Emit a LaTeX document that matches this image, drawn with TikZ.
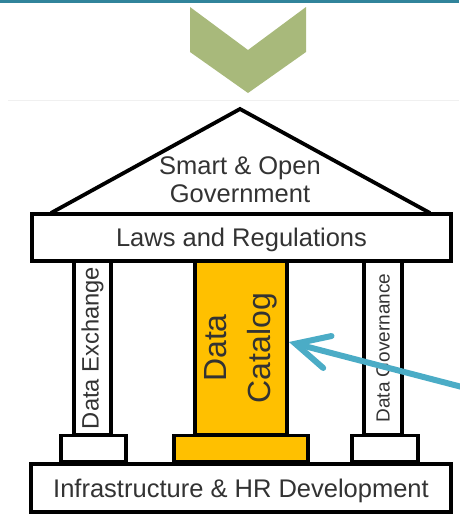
\documentclass[tikz,border=0pt]{standalone}
\usepackage{fontspec}
\setmainfont{Liberation Sans}
\usetikzlibrary{arrows.meta}

\definecolor{topbar}{HTML}{31849B}
\definecolor{chevron}{HTML}{A8B97B}
\definecolor{gold}{HTML}{FFC000}
\definecolor{pointer}{HTML}{4BACC6}
\definecolor{ink}{HTML}{333333}

\begin{document}
\begin{tikzpicture}[
    x = 1pt, y = -1pt, % pixel grid of the picture
    line width = 3.8pt, % heavy outlines
    line join = miter
    ]

    \tikzset{
    slab/.style = {draw = black, fill = white, text = ink, inner sep = 0pt,
        text depth = 0pt, font = \fontsize{25.5}{28}\selectfont},
    pillar/.style = {draw = black, fill = white, text = ink, inner sep = 0pt,
        rotate = 90, minimum width = 174pt},
    plinth/.style = {draw = black, fill = white, inner sep = 0pt,
        minimum height = 26pt}
    }

    \useasboundingbox (0,0) rectangle (459,517);

    % top band and chevron
    \fill[topbar] (0,0) rectangle (459,3);
    \fill[chevron] (190,7) -- (248,50) -- (306,7) -- (306,52) -- (248,93) -- (190,52) -- cycle;
    \draw[line width = 1pt, black!6] (8,100) -- (459,100);

    % floor and beam
    \node[slab, minimum width = 420pt, minimum height = 48pt] (infra) at (241,488) {Infrastructure \& HR Development};
    \node[slab, minimum width = 419pt, minimum height = 47pt] (laws) at (241.5,237.5) {Laws and Regulations};

    % roof
    \coordinate (apex) at (240,109);
    \coordinate (eaveL) at (51,213);
    \coordinate (eaveR) at (430,213);
    \draw (eaveL) -- (apex) -- (eaveR);
    \node[text = ink, align = center, font = \fontsize{25.5}{28}\selectfont] (gov) at (240,180) {Smart \& Open\\Government};

    % plinths
    \node[plinth, minimum width = 65pt] (baseL) at (93.5,448.5) {};
    \node[plinth, minimum width = 134pt, fill = gold] (baseC) at (241,448.5) {};
    \node[plinth, minimum width = 66pt] (baseR) at (385,448.5) {};

    % pillars
    \node[pillar, minimum height = 37pt, font = \fontsize{23.7}{28}\selectfont] (exchange) at (92.5,348) {Data Exchange};
    \node[pillar, minimum height = 92pt, fill = gold, align = center, font = \fontsize{32}{44}\selectfont] (catalog) at (241,348) {Data\\Catalog};
    \node[pillar, minimum height = 38pt, font = \fontsize{19}{22}\selectfont] (governance) at (383,348) {Data Governance};

    % pointer
    \coordinate (ptr) at (462,387);
    \draw[pointer, line width = 6pt, line cap = round,
        -{Straight Barb[length = 33pt, width = 33pt, line cap = round]}]
        (ptr) -- ([yshift = 6pt]catalog.south);
\end{tikzpicture}
\end{document}
